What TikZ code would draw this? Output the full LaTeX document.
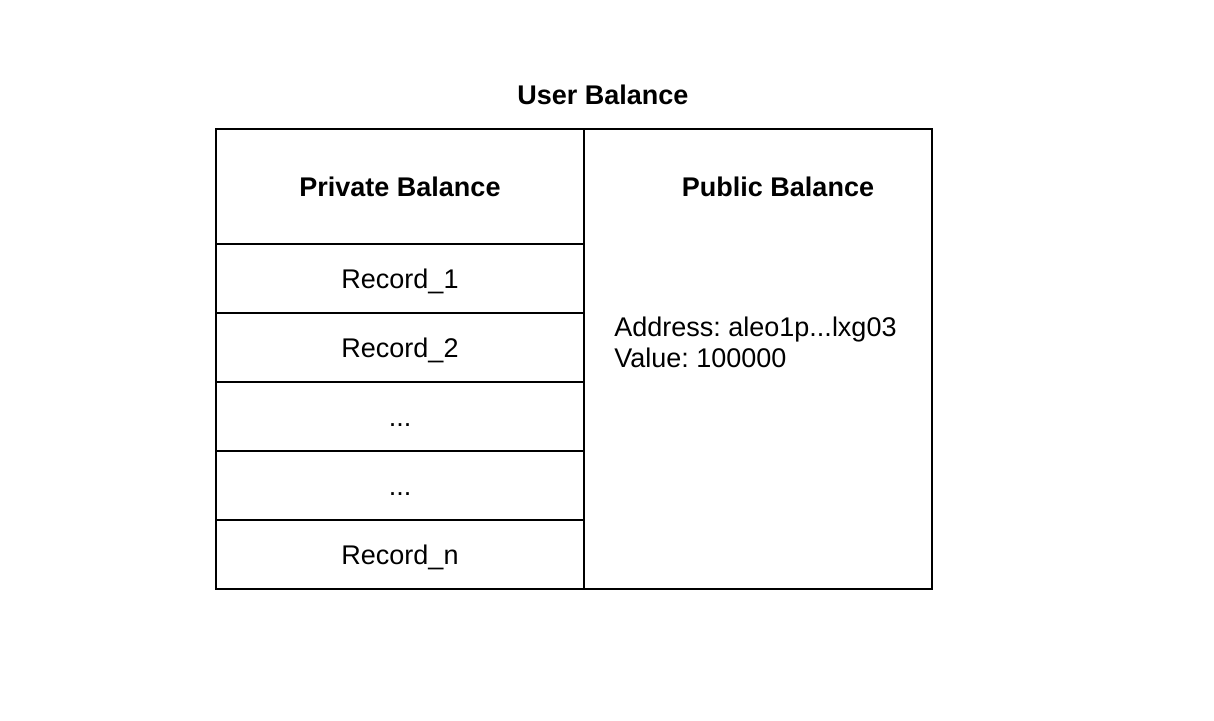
\documentclass[tikz,border=0pt]{standalone}
\usepackage{fontspec}
\setmainfont{Liberation Sans}
\frenchspacing
\begin{document}
\begin{tikzpicture}[x=0.5pt,y=-0.5pt,
  cell/.style={draw=black,line width=1pt,anchor=north west,inner sep=0pt,text height=10pt,text depth=0pt,minimum width=184pt,font=\fontsize{13.5}{15.5}\selectfont},
  lbl/.style={inner sep=0pt,font=\fontsize{13.5}{15.5}\selectfont},
  hdr/.style={inner sep=0pt,font=\fontsize{13.5}{15.5}\selectfont\bfseries}]
\useasboundingbox (0,0) rectangle (1214,720);
\node[hdr] (title) at (603,95) {User Balance};
\node[cell,minimum width=174pt,minimum height=230pt] (pub) at (583,128) {};
\node[cell,minimum height=57.5pt] (priv) at (215,128) {\textbf{Private Balance}};
\node[cell,minimum height=34.5pt] (r1) at (215,243) {Record\_1};
\node[cell,minimum height=34.5pt] (r2) at (215,312) {Record\_2};
\node[cell,minimum height=34.5pt] (r3) at (215,381) {...};
\node[cell,minimum height=34.5pt] (r4) at (215,450) {...};
\node[cell,minimum height=34.5pt] (rn) at (215,519) {Record\_n};
\node[hdr] (pubt) at (778,187) {Public Balance};
\node[lbl,anchor=west,align=left] (addr) at (614,342) {Address: aleo1p...lxg03\\Value: 100000};
\end{tikzpicture}
\end{document}
